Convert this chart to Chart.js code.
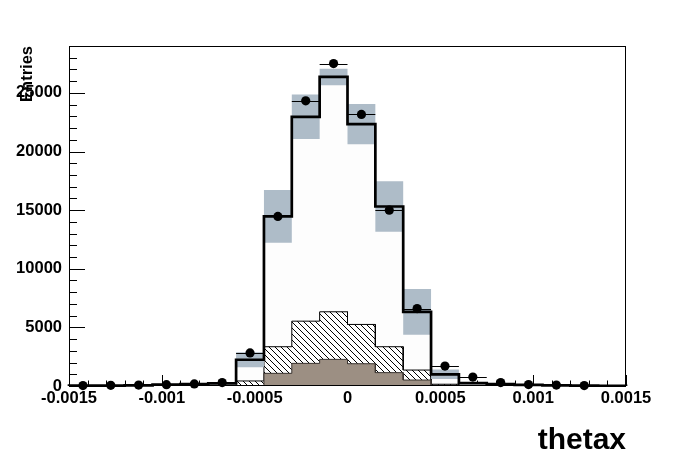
<!DOCTYPE html>
<html><head><meta charset="utf-8">
<script src="https://cdn.jsdelivr.net/npm/chart.js@4/dist/chart.umd.min.js"></script>
<style>html,body{margin:0;padding:0;background:#fff;} #wrap{width:696px;height:472px;}</style>
</head><body><div id="wrap"><canvas id="c" width="696" height="472"></canvas></div>
<script>
// ---- data ----
const binEdges = [-0.0015, -0.00135, -0.0012, -0.00105, -0.0009, -0.00075, -0.0006, -0.00045, -0.0003, -0.00015,
                  0, 0.00015, 0.0003, 0.00045, 0.0006, 0.00075, 0.0009, 0.00105, 0.0012, 0.00135, 0.0015];
const dataCounts = [40, 60, 80, 110, 180, 290, 2820, 14460, 24320, 27500, 23160, 15000, 6600, 1700, 760, 290, 120, 80, 40, null];
const mcTotal    = [30, 30, 50, 130, 170, 230, 2240, 14460, 22960, 26360, 22340, 15310, 6330, 1000, 250, 160, 90, 50, 30, 20];
const mcError    = [20, 20, 30, 60, 80, 100, 640, 2250, 1900, 710, 1720, 2160, 1950, 400, 100, 60, 40, 30, 20, 10];
const hatchedBkg = [0, 0, 0, 0, 10, 30, 430, 2270, 3600, 4060, 3350, 2210, 850, 100, 30, 20, 10, 0, 0, 0];
const brownBkg   = [0, 0, 0, 0, 0, 10, 0, 1080, 1930, 2270, 1900, 1140, 510, 50, 20, 0, 0, 0, 0, 0];
const xTickValues = [-0.0015, -0.001, -0.0005, 0, 0.0005, 0.001, 0.0015];
const xTickLabels = ['-0.0015', '-0.001', '-0.0005', '0', '0.0005', '0.001', '0.0015'];
const yTickValues = [0, 5000, 10000, 15000, 20000, 25000];
const yTickLabels = ['0', '5000', '10000', '15000', '20000', '25000'];
const xTitle = 'thetax';
const yTitle = 'Entries';

// ---- helpers ----
function stepPoints(vals, closeToZero) {
  const pts = [];
  if (closeToZero) pts.push({x: binEdges[0], y: 0});
  vals.forEach((v, i) => { pts.push({x: binEdges[i], y: v}); pts.push({x: binEdges[i + 1], y: v}); });
  if (closeToZero) pts.push({x: binEdges[vals.length], y: 0});
  return pts;
}
const hatchTop = hatchedBkg.map((v, i) => v + brownBkg[i]);
const bandHi = mcTotal.map((v, i) => v + mcError[i]);
const bandLo = mcTotal.map((v, i) => Math.max(0, v - mcError[i]));
const pointData = [];
dataCounts.forEach((v, i) => { if (v !== null) pointData.push({x: (binEdges[i] + binEdges[i + 1]) / 2, y: v}); });

const canvas = document.getElementById('c');
const mainCtx = canvas.getContext('2d');
function makeHatch() {
  const s = 6;
  const c = document.createElement('canvas'); c.width = s; c.height = s;
  const g = c.getContext('2d');
  g.fillStyle = '#ffffff'; g.fillRect(0, 0, s, s);
  g.strokeStyle = '#000'; g.lineWidth = 1;
  g.beginPath();
  for (const o of [-s, 0, s]) { g.moveTo(o, 0); g.lineTo(o + s, s); }
  g.stroke();
  return mainCtx.createPattern(c, 'repeat');
}
const hatch = makeHatch();

const FONT = '"Liberation Sans", Arial, Helvetica, sans-serif';

const decor = {
  id: 'decor',
  beforeDatasetsDraw(chart) {
    const {ctx, chartArea: a, scales: {x, y}} = chart;
    ctx.save();
    ctx.strokeStyle = '#000'; ctx.lineWidth = 1;
    ctx.beginPath();
    for (let k = 0; k <= 30; k++) {
      const v = xTickValues[0] + k * 0.0001;
      const px = Math.round(x.getPixelForValue(v)) + 0.5;
      const len = (k % 5 === 0) ? 11 : 5.5;
      ctx.moveTo(px, a.bottom); ctx.lineTo(px, a.bottom - len);
    }
    for (let k = 0; k <= 29; k++) {
      const py = Math.round(y.getPixelForValue(k * 1000)) + 0.5;
      const len = (k % 5 === 0) ? 16 : 8;
      ctx.moveTo(a.left, py); ctx.lineTo(a.left + len, py);
    }
    ctx.stroke();
    ctx.restore();
  },
  afterDatasetsDraw(chart) {
    const {ctx, chartArea: a, scales: {x, y}} = chart;
    ctx.save();
    ctx.strokeStyle = '#000'; ctx.lineWidth = 1;
    ctx.beginPath();
    dataCounts.forEach((v, i) => {
      if (v === null) return;
      const py = Math.round(y.getPixelForValue(v)) + 0.5;
      ctx.moveTo(x.getPixelForValue(binEdges[i]), py);
      ctx.lineTo(x.getPixelForValue(binEdges[i + 1]), py);
    });
    ctx.stroke();
    ctx.strokeRect(a.left + 0.5, a.top + 0.5, a.width - 1, a.height - 1);
    ctx.restore();
  }
};

new Chart(canvas, {
  type: 'line',
  data: {
    datasets: [
      { label: 'signal', data: stepPoints(mcTotal, true), fill: 'origin', backgroundColor: '#fdfdfd',
        borderColor: 'transparent', borderWidth: 0, pointRadius: 0, order: 10 },
      { label: 'bkg hatched', data: stepPoints(hatchTop, true), fill: 'origin', backgroundColor: hatch,
        borderColor: '#000', borderWidth: 1, pointRadius: 0, order: 9 },
      { label: 'bkg brown', data: stepPoints(brownBkg, true), fill: 'origin', backgroundColor: '#9c8f83',
        borderColor: '#3a3430', borderWidth: 1, pointRadius: 0, order: 8 },
      { label: 'band hi', data: stepPoints(bandHi, false), fill: '+1', backgroundColor: '#aebcc8',
        borderColor: 'transparent', borderWidth: 0, pointRadius: 0, order: 7 },
      { label: 'band lo', data: stepPoints(bandLo, false), fill: false,
        borderColor: 'transparent', borderWidth: 0, pointRadius: 0, order: 7 },
      { label: 'MC total', data: stepPoints(mcTotal, true), fill: false,
        borderColor: '#000', borderWidth: 2.7, pointRadius: 0, order: 6, clip: 2 },
      { label: 'data', data: pointData, showLine: false, pointRadius: 4.6, pointBackgroundColor: '#000',
        pointBorderWidth: 0, pointBorderColor: '#000', order: 1, clip: 6 }
    ]
  },
  options: {
    responsive: false,
    devicePixelRatio: 1,
    animation: false,
    events: [],
    elements: { line: { tension: 0 } },
    layout: { padding: { top: 46, right: 70, left: 0, bottom: 0 } },
    plugins: { legend: { display: false }, tooltip: { enabled: false }, title: { display: false } },
    scales: {
      x: {
        type: 'linear', min: xTickValues[0], max: xTickValues[xTickValues.length - 1],
        grid: { display: false, drawTicks: false }, border: { display: false },
        afterBuildTicks: s => { s.ticks = xTickValues.map(v => ({ value: v })); },
        afterFit: s => { s.height = 86; },
        ticks: { autoSkip: false, maxRotation: 0, minRotation: 0, padding: 3, color: '#000',
                 font: { family: FONT, weight: 'bold', size: 16.5 },
                 callback: (v, i) => xTickLabels[i] },
        title: { display: true, text: xTitle, align: 'end', color: '#000',
                 font: { family: FONT, weight: 'bold', size: 30, lineHeight: 1.2 }, padding: { top: 0, bottom: 13 } }
      },
      y: {
        type: 'linear', min: 0, max: 29000,
        grid: { display: false, drawTicks: false }, border: { display: false },
        afterBuildTicks: s => { s.ticks = yTickValues.map(v => ({ value: v })); },
        afterFit: s => { s.width = 69; },
        ticks: { autoSkip: false, padding: 7, color: '#000',
                 font: { family: FONT, weight: 'bold', size: 16.5 },
                 callback: (v, i) => yTickLabels[i] },
        title: { display: true, text: yTitle, align: 'end', color: '#000',
                 font: { family: FONT, weight: 'bold', size: 16.5, lineHeight: 1.2 }, padding: { top: 18, bottom: 0 } }
      }
    }
  },
  plugins: [decor]
});
</script>
</body></html>
